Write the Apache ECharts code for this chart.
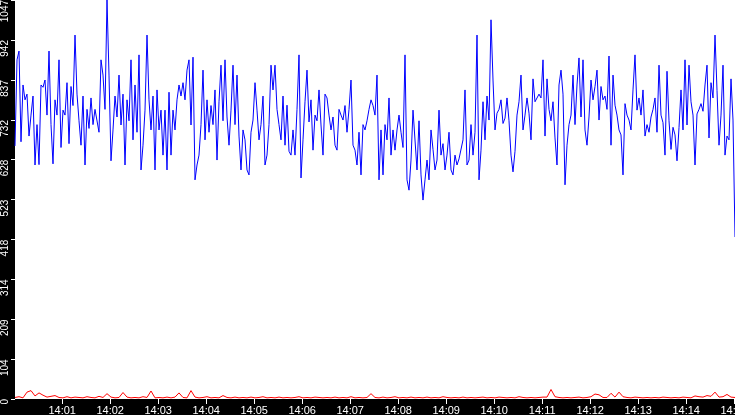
<!DOCTYPE html>
<html>
<head>
<meta charset="utf-8">
<script src="https://cdn.jsdelivr.net/npm/echarts@6/dist/echarts.min.js"></script>
<style>
html,body{margin:0;padding:0;background:#000;}
#chart{width:735px;height:415px;}
</style>
</head>
<body>
<div id="chart"></div>
<script>
// seconds after 14:00:00 of first sample, and spacing between samples
const startSec = 1;
const blueStepSec = 2.5;
const redStepSec = 5;

const xTickLabels = ['14:01','14:02','14:03','14:04','14:05','14:06','14:07','14:08','14:09','14:10','14:11','14:12','14:13','14:14','14:15'];
const yTickLabels = [0, 104, 209, 314, 418, 523, 628, 732, 837, 942, 1047];

const blueValues = [
 664, 890, 913, 675, 824, 785, 800, 690, 745, 795,
 614, 720, 615, 824, 818, 837, 745, 913, 720, 617,
 785, 745, 890, 660, 758, 745, 830, 670, 820, 770,
 955, 800, 730, 666, 795, 614, 760, 710, 790, 720,
 760, 758, 700, 890, 850, 760, 1047, 850, 625, 706,
 795, 740, 850, 719, 800, 614, 785, 730, 890, 680,
 824, 700, 903, 601, 666, 758, 955, 785, 706, 795,
 601, 811, 706, 758, 640, 758, 601, 805, 640, 758,
 706, 785, 824, 795, 830, 785, 863, 890, 719, 897,
 575, 614, 640, 720, 863, 680, 785, 700, 770, 720,
 811, 627, 780, 876, 730, 890, 740, 666, 758, 876,
 720, 850, 690, 601, 706, 680, 601, 588, 700, 732,
 830, 758, 680, 720, 795, 614, 640, 720, 876, 811,
 876, 760, 720, 680, 795, 666, 771, 650, 640, 706,
 640, 760, 903, 580, 680, 780, 863, 727, 785, 653,
 745, 730, 811, 719, 640, 800, 790, 745, 706, 740,
 666, 653, 760, 745, 732, 770, 700, 760, 837, 666,
 653, 614, 700, 588, 720, 706, 730, 760, 785, 770,
 745, 850, 575, 706, 588, 720, 680, 790, 640, 706,
 653, 706, 745, 700, 660, 903, 575, 548, 627, 758,
 760, 601, 730, 588, 522, 575, 627, 575, 706, 655,
 601, 627, 758, 640, 670, 601, 640, 700, 601, 588,
 640, 614, 630, 627, 680, 811, 614, 627, 720, 640,
 700, 955, 575, 653, 780, 680, 795, 732, 995, 837,
 706, 750, 760, 785, 723, 737, 790, 730, 640, 596,
 650, 745, 780, 850, 706, 745, 790, 750,
 680, 840, 780, 775, 800, 790, 890, 690, 840, 760,
 730, 780, 685, 614, 824, 863, 800, 562, 666, 720,
 745, 850, 720, 824, 895, 740, 890, 706, 666, 740,
 837, 785, 820, 863, 732, 820, 785, 795, 760, 900,
 666, 850, 771, 745, 706, 693, 588, 775, 745, 732,
 706, 811, 903, 758, 790, 745, 811, 690, 720, 700,
 740, 760, 790, 700, 876, 745, 725, 640, 860, 730,
 655, 713, 693, 625, 712, 811, 706, 890, 719, 876,
 780, 745, 614, 748, 760, 775, 755, 824, 876, 685,
 830, 790, 955, 810, 666, 745, 876, 640, 690, 680,
 840, 732, 425
];

const redValues = [
 4, 6, 3, 18, 22, 8, 16, 10, 5, 7,
 9, 4, 3, 6, 3, 5, 4, 3, 6, 4,
 3, 7, 4, 14, 5, 3, 4, 17, 5, 3,
 4, 3, 6, 4, 21, 3, 4, 3, 5, 3,
 5, 16, 4, 3, 22, 5, 3, 4, 6, 3,
 4, 3, 9, 4, 3, 5, 3, 4, 3, 5,
 3, 4, 6, 3, 4, 3, 5, 3, 4, 3,
 4, 6, 3, 4, 3, 5, 4, 3, 4, 3,
 5, 3, 4, 3, 6, 3, 4, 3, 4, 14,
 4, 3, 5, 3, 4, 6, 3, 4, 3, 5,
 3, 4, 3, 5, 3, 4, 3, 6, 4, 3,
 4, 3, 5, 3, 4, 3, 4, 5, 3, 4,
 3, 5, 4, 3, 4, 3, 6, 4, 3, 4,
 3, 4, 5, 5, 25, 6, 4, 3, 4, 3,
 4, 5, 3, 4, 6, 13, 11, 4, 4, 15,
 5, 18, 6, 4, 3, 5, 4, 3, 4, 3,
 4, 3, 5, 4, 3, 4, 3, 5, 4, 3,
 8, 6, 5, 9, 7, 18, 5, 6, 12, 5, 4
];

const xTickSecs = xTickLabels.map((_, i) => (i + 1) * 60);
const blueData = blueValues.map((v, i) => [startSec + i * blueStepSec, v]);
const redData = redValues.map((v, i) => [startSec + i * redStepSec, v]);

const chart = echarts.init(document.getElementById('chart'), null, {renderer: 'canvas'});
chart.setOption({
  animation: false,
  backgroundColor: '#000000',
  grid: {
    left: 15, right: 0, top: 0, bottom: 16,
    containLabel: false,
    outerBoundsMode: 'none',
    show: true, backgroundColor: '#ffffff', borderWidth: 0
  },
  xAxis: {
    type: 'value',
    min: startSec,
    max: startSec + 900,
    axisLine: {show: false},
    splitLine: {show: false},
    axisTick: {show: true, length: 5, lineStyle: {color: '#ffffff', width: 1}, customValues: xTickSecs},
    axisLabel: {
      customValues: xTickSecs,
      formatter: function (v) { return xTickLabels[Math.round(v / 60) - 1]; },
      color: '#ffffff', fontFamily: 'Liberation Sans', fontSize: 11, margin: 6,
      showMaxLabel: true, hideOverlap: false
    }
  },
  yAxis: {
    type: 'value',
    min: 0,
    max: 1047,
    axisLine: {show: false},
    splitLine: {show: false},
    axisTick: {show: true, length: 4, lineStyle: {color: '#ffffff', width: 1}, customValues: yTickLabels},
    axisLabel: {
      customValues: yTickLabels,
      formatter: function (v) { return String(v); },
      rotate: 90,
      align: 'right',
      verticalAlign: 'bottom',
      color: '#ffffff', fontFamily: 'Liberation Sans', fontSize: 10, margin: 5,
      showMinLabel: true, showMaxLabel: true
    }
  },
  series: [
    {
      type: 'line', data: blueData, showSymbol: false, symbol: 'none',
      lineStyle: {color: '#0000ff', width: 1}, itemStyle: {color: '#0000ff'},
      sampling: null, z: 3
    },
    {
      type: 'line', data: redData, showSymbol: false, symbol: 'none',
      lineStyle: {color: '#ff0000', width: 1}, itemStyle: {color: '#ff0000'},
      z: 4
    }
  ]
});
</script>
</body>
</html>
